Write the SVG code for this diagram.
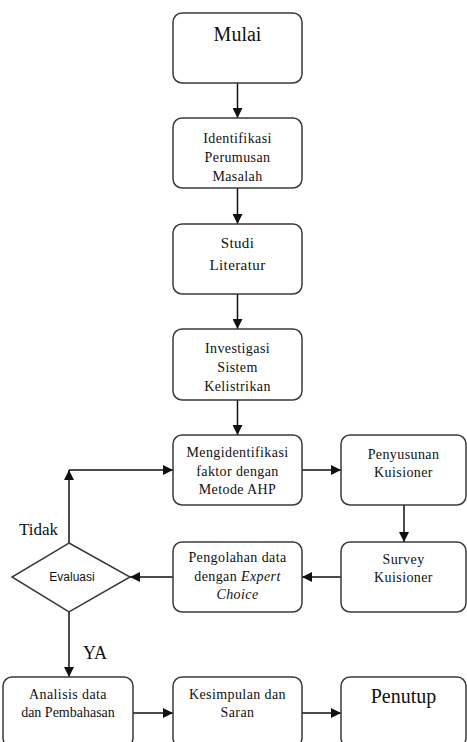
<svg xmlns="http://www.w3.org/2000/svg" width="467" height="742" viewBox="0 0 467 742">
<style>
.box{fill:#fff;stroke:#3a3a3a;stroke-width:1.5}
.t{font-family:"Liberation Serif",serif;font-size:14px;fill:#111;text-anchor:middle;letter-spacing:0.4px}
.big{font-family:"Liberation Serif",serif;font-size:20px;fill:#111;text-anchor:middle}
.lbl{font-family:"Liberation Serif",serif;fill:#111}
.c{fill:none;stroke:#111;stroke-width:1.5}
</style>
<defs>
<marker id="ah" viewBox="0 0 10 10" refX="10" refY="5" markerWidth="10" markerHeight="10" markerUnits="userSpaceOnUse" orient="auto">
<path d="M0,0 L10,5 L0,10 z" fill="#111"/>
</marker>
</defs>
<rect width="467" height="742" fill="#fff"/>
<g id="connectors">
<line class="c" x1="237.5" y1="83" x2="237.5" y2="118" marker-end="url(#ah)"/>
<line class="c" x1="237.5" y1="188" x2="237.5" y2="224" marker-end="url(#ah)"/>
<line class="c" x1="237.5" y1="294" x2="237.5" y2="329" marker-end="url(#ah)"/>
<line class="c" x1="237.5" y1="400" x2="237.5" y2="435" marker-end="url(#ah)"/>
<line class="c" x1="302" y1="470" x2="341" y2="470" marker-end="url(#ah)"/>
<line class="c" x1="404" y1="505" x2="404" y2="542" marker-end="url(#ah)"/>
<line class="c" x1="341" y1="577" x2="302" y2="577" marker-end="url(#ah)"/>
<line class="c" x1="173" y1="577" x2="130" y2="577" marker-end="url(#ah)"/>
<line class="c" x1="69" y1="543" x2="69" y2="470" marker-end="url(#ah)"/>
<line class="c" x1="69" y1="470" x2="173" y2="470" marker-end="url(#ah)"/>
<line class="c" x1="69" y1="612" x2="69" y2="677" marker-end="url(#ah)"/>
<line class="c" x1="133" y1="713" x2="173" y2="713" marker-end="url(#ah)"/>
<line class="c" x1="302" y1="713" x2="341" y2="713" marker-end="url(#ah)"/>
</g>
<g id="mulai"><rect class="box" x="173" y="13" width="129" height="70" rx="9"/><text class="big" x="237.5" y="41">Mulai</text></g>
<g id="identifikasi"><rect class="box" x="173" y="118" width="129" height="70" rx="9"/>
<text class="t" x="237.5" y="143">Identifikasi</text><text class="t" x="237.5" y="162">Perumusan</text><text class="t" x="237.5" y="181">Masalah</text></g>
<g id="studi"><rect class="box" x="173" y="224" width="129" height="70" rx="9"/>
<text class="t" x="237.5" y="248" style="font-size:15px">Studi</text><text class="t" x="237.5" y="270" style="font-size:15px">Literatur</text></g>
<g id="investigasi"><rect class="box" x="173" y="329" width="129" height="71" rx="9"/>
<text class="t" x="237.5" y="353">Investigasi</text><text class="t" x="237.5" y="372">Sistem</text><text class="t" x="237.5" y="391">Kelistrikan</text></g>
<g id="mengidentifikasi"><rect class="box" x="173" y="435" width="129" height="70" rx="9"/>
<text class="t" x="237.5" y="457">Mengidentifikasi</text><text class="t" x="237.5" y="476">faktor dengan</text><text class="t" x="237.5" y="494">Metode AHP</text></g>
<g id="penyusunan"><rect class="box" x="341" y="435" width="125" height="70" rx="9"/>
<text class="t" x="403.5" y="459">Penyusunan</text><text class="t" x="403.5" y="477">Kuisioner</text></g>
<g id="survey"><rect class="box" x="341" y="542" width="125" height="70" rx="9"/>
<text class="t" x="403.5" y="564">Survey</text><text class="t" x="403.5" y="582">Kuisioner</text></g>
<g id="pengolahan"><rect class="box" x="173" y="542" width="129" height="70" rx="9"/>
<text class="t" x="237.5" y="562">Pengolahan data</text><text class="t" x="237.5" y="581">dengan <tspan font-style="italic">Expert</tspan></text><text class="t" x="237.5" y="599" font-style="italic">Choice</text></g>
<g id="evaluasi"><polygon class="box" points="69,543 130,577 69,612 12,577"/>
<text x="72" y="581" style="font-family:'Liberation Sans',sans-serif;font-size:12px;fill:#111;text-anchor:middle">Evaluasi</text></g>
<g id="labels">
<text class="lbl" x="19" y="535" font-size="17">Tidak</text>
<text class="lbl" x="83" y="659" font-size="18">YA</text>
</g>
<g id="analisis"><rect class="box" x="3" y="677" width="130" height="70" rx="9"/>
<text class="t" x="68" y="699">Analisis data</text><text class="t" x="68" y="717" style="letter-spacing:0">dan Pembahasan</text></g>
<g id="kesimpulan"><rect class="box" x="173" y="677" width="129" height="70" rx="9"/>
<text class="t" x="237.5" y="699">Kesimpulan dan</text><text class="t" x="237.5" y="717">Saran</text></g>
<g id="penutup"><rect class="box" x="341" y="677" width="125" height="70" rx="9"/>
<text class="big" x="403.5" y="703">Penutup</text></g>
</svg>
